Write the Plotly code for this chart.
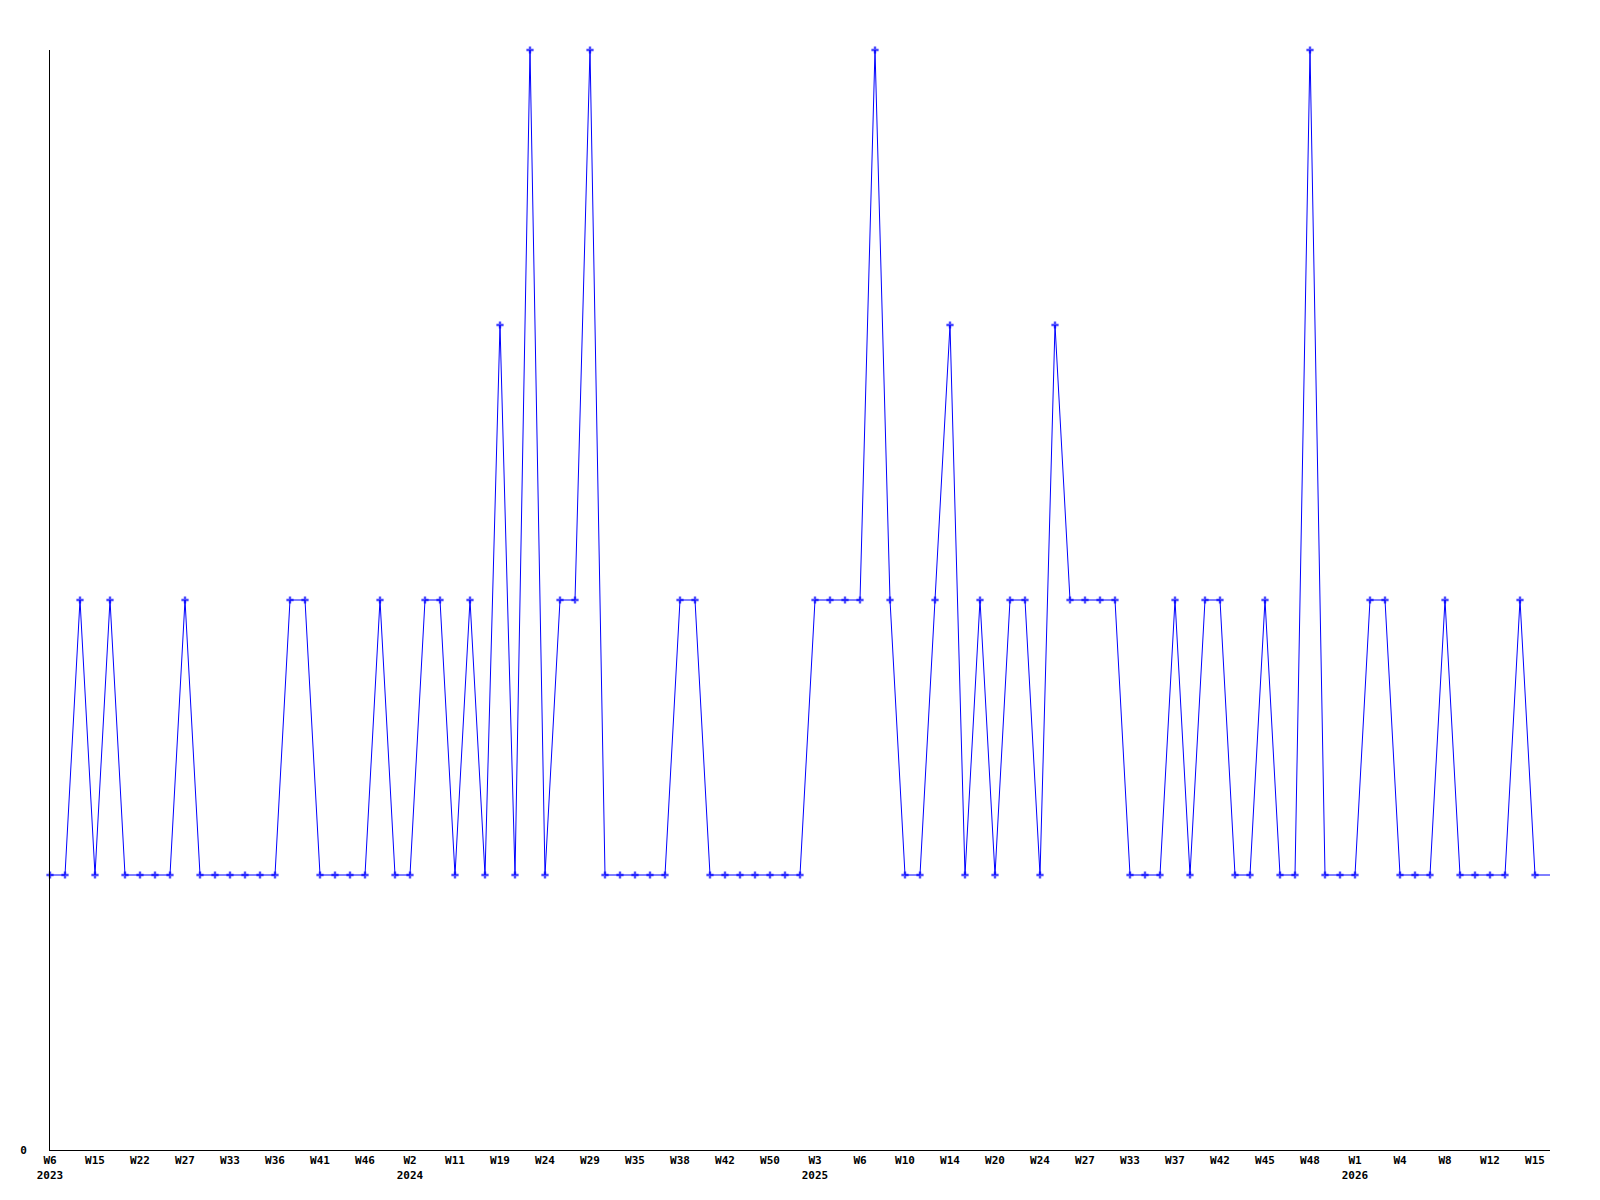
import plotly.graph_objects as go

# Weekly values (one per week with data)
values = [
    1, 1, 2, 1, 2, 1, 1, 1, 1, 2,
    1, 1, 1, 1, 1, 1, 2, 2, 1, 1,
    1, 1, 2, 1, 1, 2, 2, 1, 2, 1,
    3, 1, 4, 1, 2, 2, 4, 1, 1, 1,
    1, 1, 2, 2, 1, 1, 1, 1, 1, 1,
    1, 2, 2, 2, 2, 4, 2, 1, 1, 2,
    3, 1, 2, 1, 2, 2, 1, 3, 2, 2,
    2, 2, 1, 1, 1, 2, 1, 2, 2, 1,
    1, 2, 1, 1, 4, 1, 1, 1, 2, 2,
    1, 1, 1, 2, 1, 1, 1, 1, 2, 1,
    1,
]

# Tick labels shown every third point
tick_labels = [
    "W6<br>2023", "W15", "W22", "W27", "W33", "W36", "W41", "W46",
    "W2<br>2024", "W11", "W19", "W24", "W29", "W35", "W38", "W42", "W50",
    "W3<br>2025", "W6", "W10", "W14", "W20", "W24", "W27", "W33", "W37",
    "W42", "W45", "W48", "W1<br>2026", "W4", "W8", "W12", "W15",
]

x = list(range(len(values)))
tick_pos = [3 * i for i in range(len(tick_labels))]
marker_sizes = [6] * (len(values) - 1) + [0]

fig = go.Figure()
fig.add_trace(go.Scatter(
    x=x, y=values, mode="lines+markers",
    line=dict(color="#0000ff", width=1),
    marker=dict(symbol="cross", size=marker_sizes, color="#0000ff", line=dict(width=0)),
    cliponaxis=False,
    hoverinfo="skip",
))

fig.update_layout(
    width=1592, height=1192,
    margin=dict(l=42, r=50, t=42, b=50),
    paper_bgcolor="white", plot_bgcolor="white",
    showlegend=False,
    font=dict(family="DejaVu Sans Mono", size=11, color="black", weight="bold"),
)
fig.update_xaxes(
    range=[0, len(values) - 1], showgrid=False, zeroline=False,
    showline=True, linecolor="black", linewidth=1,
    tickmode="array", tickvals=tick_pos, ticktext=tick_labels,
    ticks="", tickangle=0,
)
fig.update_yaxes(
    range=[0, 4], showgrid=False, zeroline=False,
    showline=True, linecolor="black", linewidth=1,
    tickmode="array", tickvals=[0], ticktext=["0"],
    ticks="", ticklabelstandoff=20,
)

fig.write_html("out.html")
